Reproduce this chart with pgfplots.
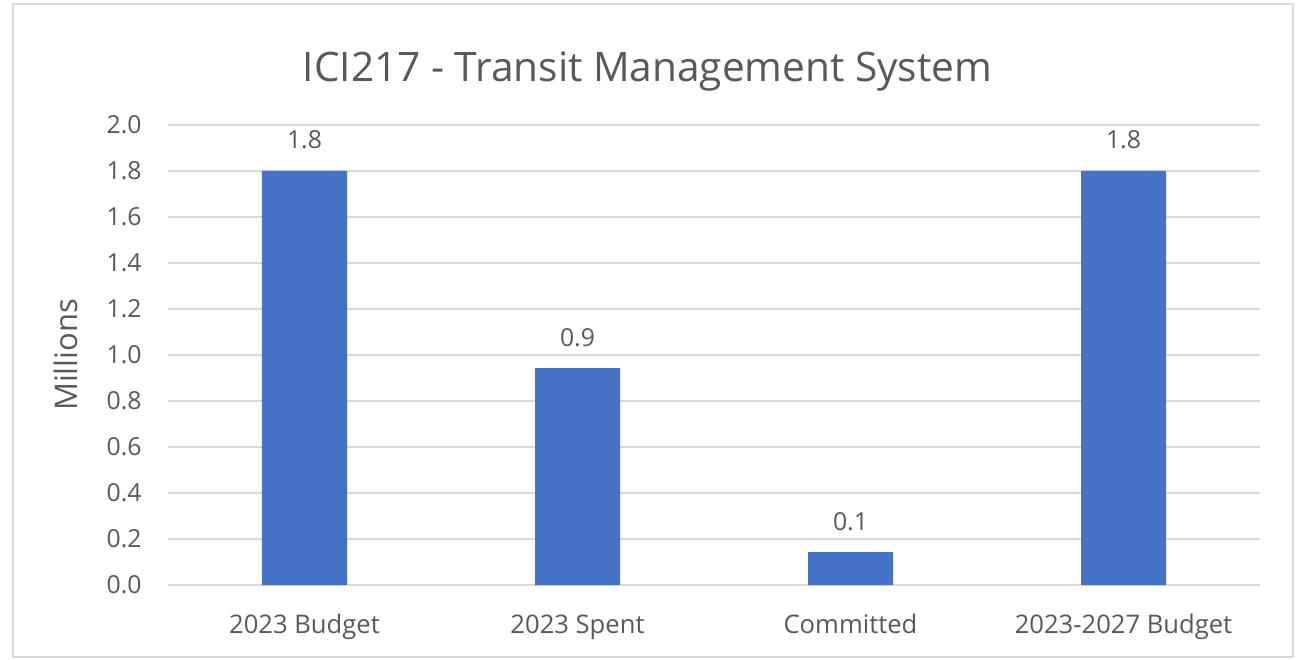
\documentclass[border=0pt]{standalone}
\usepackage{fontspec}
\setmainfont{Open Sans}
\usepackage{pgfplots}
\pgfplotsset{compat=1.18}
\definecolor{barblue}{HTML}{4472C4}
\definecolor{txtgray}{HTML}{595959}
\definecolor{gridgray}{HTML}{D9D9D9}
\begin{document}
\begin{tikzpicture}
\path[use as bounding box, fill=white] (0,0) rectangle (650.5pt,329.5pt);
\draw[gridgray, line width=0.8pt] (6.5pt,1pt) rectangle (646.5pt,327.5pt);
\node[anchor=base, text=txtgray, font=\fontsize{20.3}{23}\selectfont, inner sep=0pt] at (323.75pt,288.5pt) {ICI217 - Transit Management System};
\begin{axis}[
  at={(84pt,37pt)}, anchor=south west,
  scale only axis, width=546pt, height=230pt,
  ybar, bar width=42.5pt,
  xmin=-0.5, xmax=3.5, ymin=0, ymax=2.0,
  xtick=data,
  xticklabels={2023 Budget, 2023 Spent, Committed, 2023-2027 Budget},
  ytick={0,0.2,...,2.01},
  axis line style={draw=none},
  x axis line style={draw=gridgray, line width=1pt},
  major tick length=0pt,
  ymajorgrids, grid style={gridgray, line width=1pt},
  /pgf/number format/assume math mode=true,
  yticklabel={\pgfmathprintnumber[fixed, fixed zerofill, precision=1]{\tick}},
  yticklabel style={text=txtgray, font=\fontsize{12.4}{14}\selectfont, inner sep=0pt, anchor=east, xshift=-13pt},
  xticklabel style={text=txtgray, font=\fontsize{12.8}{14}\selectfont, inner sep=0pt, anchor=base, yshift=-24pt},
  ylabel={Millions},
  ylabel style={text=txtgray, font=\fontsize{15.5}{17}\selectfont, at={(axis description cs:-0.0934,0.5)}, anchor=center},
  nodes near coords={\pgfmathprintnumber[fixed, fixed zerofill, precision=1]{\pgfplotspointmeta}},
  nodes near coords style={text=txtgray, font=\fontsize{12.4}{14}\selectfont, inner sep=0pt, anchor=base, yshift=11pt},
]
\addplot[fill=barblue, draw=none] coordinates {(0,1.80) (1,0.943) (2,0.143) (3,1.80)};
\end{axis}
\end{tikzpicture}
\end{document}
